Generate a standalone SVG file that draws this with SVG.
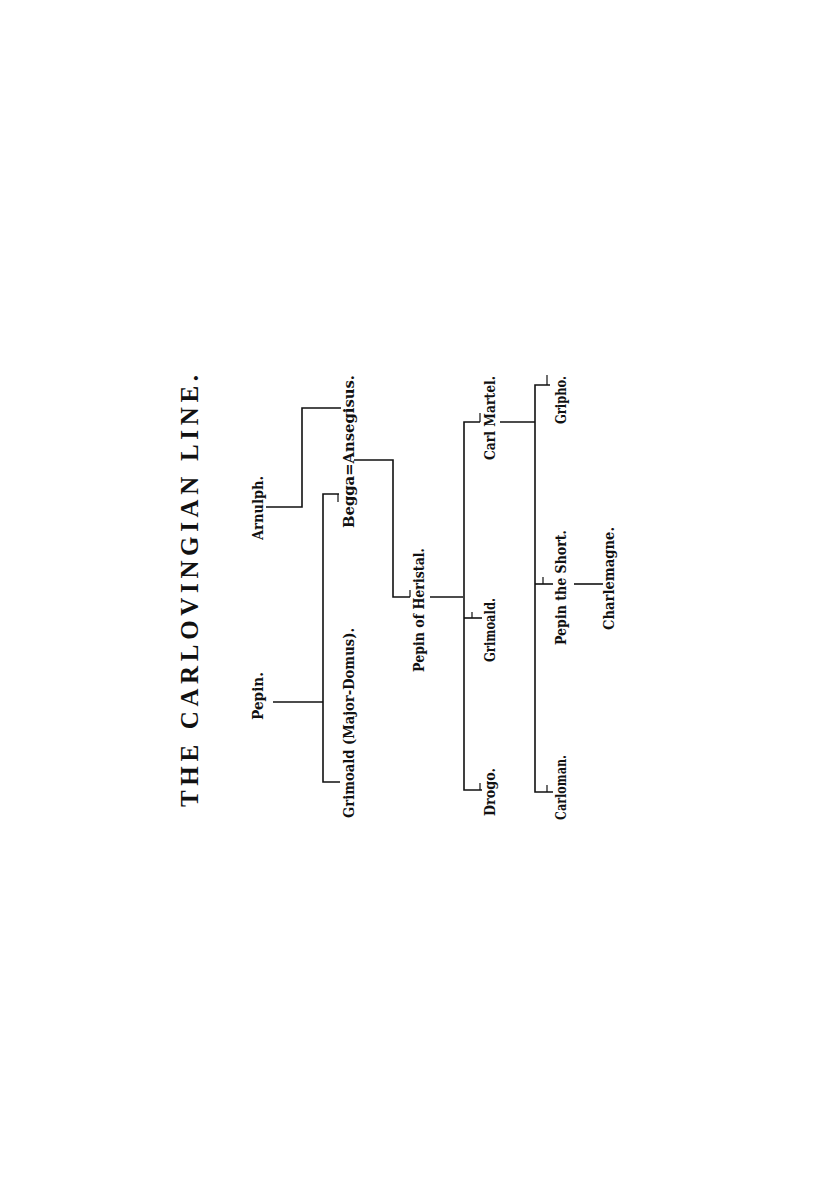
<svg xmlns="http://www.w3.org/2000/svg" width="840" height="1191" viewBox="0 0 840 1191">
<style>
.t{font-family:"Liberation Serif","Times New Roman",serif;font-weight:bold;font-size:25px;fill:#111;}
.n{font-family:"DejaVu Serif","Liberation Serif",serif;font-weight:bold;font-size:15.5px;fill:#111;}
.c{stroke:#111;stroke-width:1.6;fill:none;}
.k{stroke:#111;stroke-width:1.2;fill:none;}
</style>
<rect width="840" height="1191" fill="#fff"/>
<g id="title"><text class="t" transform="translate(198,807) rotate(-90)" textLength="432" lengthAdjust="spacing">THE CARLOVINGIAN LINE.</text></g>
<g id="arnulph"><text class="n" transform="translate(263,540) rotate(-90)" textLength="64" lengthAdjust="spacingAndGlyphs">Arnulph.</text></g>
<g id="pepin"><text class="n" transform="translate(263,720) rotate(-90)" textLength="48" lengthAdjust="spacingAndGlyphs">Pepin.</text></g>
<g id="grimoald-md"><text class="n" transform="translate(354,818) rotate(-90)" textLength="190" lengthAdjust="spacingAndGlyphs">Grimoald (Major-Domus).</text></g>
<g id="begga-ansegisus"><text class="n" transform="translate(354,528) rotate(-90)" textLength="153" lengthAdjust="spacingAndGlyphs">Begga=Ansegisus.</text></g>
<g id="pepin-heristal"><text class="n" transform="translate(424,672) rotate(-90)" textLength="124" lengthAdjust="spacingAndGlyphs">Pepin of Heristal.</text></g>
<g id="drogo"><text class="n" transform="translate(495,816) rotate(-90)" textLength="48" lengthAdjust="spacingAndGlyphs">Drogo.</text></g>
<g id="grimoald"><text class="n" transform="translate(495,662) rotate(-90)" textLength="64" lengthAdjust="spacingAndGlyphs">Grimoald.</text></g>
<g id="carl-martel"><text class="n" transform="translate(495,460) rotate(-90)" textLength="84" lengthAdjust="spacingAndGlyphs">Carl Martel.</text></g>
<g id="carloman"><text class="n" transform="translate(566,820) rotate(-90)" textLength="65" lengthAdjust="spacingAndGlyphs">Carloman.</text></g>
<g id="pepin-short"><text class="n" transform="translate(566,645) rotate(-90)" textLength="115" lengthAdjust="spacingAndGlyphs">Pepin the Short.</text></g>
<g id="gripho"><text class="n" transform="translate(566,424) rotate(-90)" textLength="48" lengthAdjust="spacingAndGlyphs">Gripho.</text></g>
<g id="charlemagne"><text class="n" transform="translate(614,630) rotate(-90)" textLength="103" lengthAdjust="spacingAndGlyphs">Charlemagne.</text></g>
<g id="connectors">
<path class="c" d="M266,507H302V408H341"/>
<path class="c" d="M273,702H323"/>
<path class="c" d="M339,494H323V782H340"/>
<path class="c" d="M354,460H393V597H410"/>
<path class="c" d="M430,597H463"/>
<path class="c" d="M480,422H464V790H482"/>
<path class="c" d="M464,618H482"/>
<path class="c" d="M500,422H535"/>
<path class="c" d="M550,385H535V792H553"/>
<path class="c" d="M535,584H553"/>
<path class="c" d="M574,584H603"/>
<path class="k" d="M338,494V502M410,590V597M480,413V422M472,612V618M480,783V790M547,375V385M543,577V584M547,785V792"/>
</g>
</svg>
